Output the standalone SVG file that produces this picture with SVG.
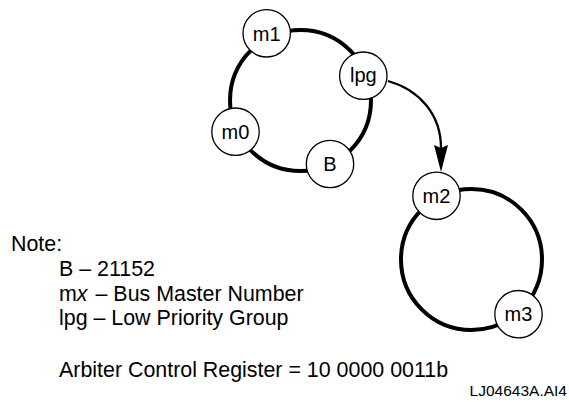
<svg xmlns="http://www.w3.org/2000/svg" width="569" height="402" viewBox="0 0 569 402">
<style>
.ring{fill:none;stroke:#000;stroke-width:4}
.node circle{fill:#fff;stroke:#000;stroke-width:1.3}
.node text{font-family:"Liberation Sans",Arial,sans-serif;font-size:20px;text-anchor:middle;fill:#000}
.note{font-family:"Liberation Sans",Arial,sans-serif;font-size:21.4px;fill:#000}
.conn{fill:none;stroke:#000;stroke-width:2.3}
.head{fill:#000}
</style>
<rect width="569" height="402" fill="#fff"/>
<g id="rings">
<circle class="ring" cx="300.5" cy="100.5" r="70.5"/>
<circle class="ring" cx="471.5" cy="259.5" r="70.5"/>
</g>
<g id="connectors">
<path class="conn" d="M388,81 C420,90 441,115 441,148"/>
<path class="head" d="M434,145 L441,148 L448,145 L441,172 Z"/>
</g>
<g id="m1" class="node"><circle cx="266.7" cy="33.3" r="23.7"/><text x="266.7" y="40.5">m1</text></g>
<g id="lpg" class="node"><circle cx="363.3" cy="75.7" r="23.7"/><text x="363.3" y="82">lpg</text></g>
<g id="m0" class="node"><circle cx="235.5" cy="131.7" r="23.7"/><text x="235.5" y="139">m0</text></g>
<g id="B" class="node"><circle cx="330" cy="164" r="23.7"/><text x="330" y="171.2">B</text></g>
<g id="m2" class="node"><circle cx="436.5" cy="195.8" r="23.7"/><text x="436.5" y="203">m2</text></g>
<g id="m3" class="node"><circle cx="518.5" cy="314.2" r="23.7"/><text x="518.5" y="321.4">m3</text></g>
<g id="notes" class="note">
<text x="11" y="250.5">Note:</text>
<text x="59" y="275.5">B – 21152</text>
<text x="59" y="300.5">m<tspan font-style="italic">x</tspan><tspan dx="8">– Bus Master Number</tspan></text>
<text x="59" y="325">lpg – Low Priority Group</text>
<text x="59" y="377">Arbiter Control Register = 10 0000 0011b</text>
<text x="567" y="396" font-size="15.5" text-anchor="end">LJ04643A.AI4</text>
</g>
</svg>
